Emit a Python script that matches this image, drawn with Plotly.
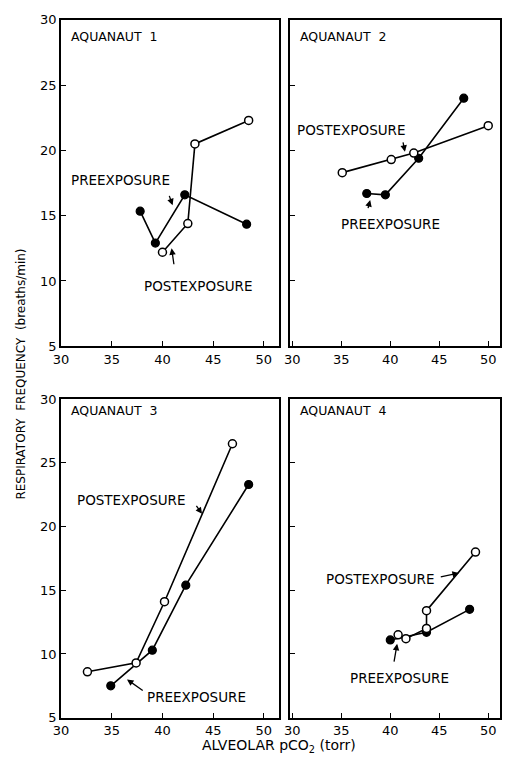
import plotly.graph_objects as go

# ---- data (alveolar pCO2 in torr, respiratory frequency in breaths/min) ----
panel_titles = ["AQUANAUT  1", "AQUANAUT  2", "AQUANAUT  3", "AQUANAUT  4"]

pre_x = [
    [37.8, 39.3, 42.2, 48.3],
    [37.6, 39.5, 42.9, 47.5],
    [34.9, 39.0, 42.3, 48.5],
    [40.0, 43.7, 48.1],
]
pre_y = [
    [15.35, 12.9, 16.6, 14.35],
    [16.7, 16.6, 19.4, 24.0],
    [7.5, 10.3, 15.4, 23.3],
    [11.1, 11.7, 13.5],
]
post_x = [
    [40.0, 42.5, 43.2, 48.5],
    [35.1, 40.1, 42.4, 50.0],
    [32.6, 37.4, 40.2, 46.9],
    [40.8, 41.6, 43.7, 43.7, 48.7],
]
post_y = [
    [12.2, 14.4, 20.5, 22.3],
    [18.3, 19.3, 19.8, 21.9],
    [8.6, 9.3, 14.1, 26.5],
    [11.5, 11.2, 12.0, 13.4, 18.0],
]

x_ticks = [30, 35, 40, 45, 50]
y_ticks = [5, 10, 15, 20, 25, 30]

# label text positions (data coords) per panel: (text, x, y)
labels = [
    [("PREEXPOSURE", 35.9, 17.7), ("POSTEXPOSURE", 43.6, 9.6)],
    [("POSTEXPOSURE", 36.0, 21.6), ("PREEXPOSURE", 40.0, 14.35)],
    [("POSTEXPOSURE", 36.9, 22.1), ("PREEXPOSURE", 43.4, 6.6)],
    [("POSTEXPOSURE", 39.0, 15.9), ("PREEXPOSURE", 40.9, 8.1)],
]
# arrows per panel: (tail_x, tail_y, head_x, head_y)
arrows = [
    [(40.5, 16.9, 41.0, 15.8), (41.2, 10.9, 40.9, 12.5)],
    [(41.2, 21.0, 41.5, 19.9), (37.6, 15.2, 37.95, 16.2)],
    [(43.1, 21.9, 43.9, 21.0), (38.3, 7.0, 36.5, 8.0)],
    [(44.9, 16.0, 47.0, 16.35), (40.3, 9.0, 40.7, 10.8)],
]

# the page body adds an 8px margin; size the figure so it fits the window
OFF = 8
W, H = 510 - 2 * OFF, 766 - 2 * OFF
# panel frames in window pixels: (left, right, top, bottom)
frames = [(54, 276, 13, 346), (288, 508, 13, 346),
          (54, 276, 400, 725), (288, 508, 400, 725)]
x_ranges = [[30, 51.45], [29.8, 51.2], [30, 51.45], [29.8, 51.2]]


def px(v):
    return (v - OFF) / W


def py(v):
    return 1 - (v - OFF) / H


FONT = "DejaVu Sans"
fig = go.Figure()
layout = dict(
    width=W, height=H, margin=dict(l=0, r=0, t=0, b=0),
    paper_bgcolor="white", plot_bgcolor="white", showlegend=False,
    font=dict(family=FONT, color="black", size=12),
)
annotations = []

for i in range(4):
    n = "" if i == 0 else str(i + 1)
    xa, ya = "x" + n, "y" + n
    l, r, t, b = frames[i]
    layout["xaxis" + n] = dict(
        domain=[px(l), min(px(r), 1.0)], range=x_ranges[i], anchor=ya,
        tickvals=x_ticks, ticks="inside", ticklen=5, tickwidth=1.2,
        tickcolor="black", showline=True, linecolor="black", linewidth=1.8,
        mirror=True, showgrid=False, zeroline=False,
        tickfont=dict(family=FONT, size=13, color="black"),
    )
    layout["yaxis" + n] = dict(
        domain=[py(b), py(t)], range=[5, 30], anchor=xa,
        tickvals=y_ticks, ticks="inside", ticklen=5, tickwidth=1.2,
        tickcolor="black", showline=True, linecolor="black", linewidth=1.8,
        mirror=True, showgrid=False, zeroline=False,
        showticklabels=(i % 2 == 0),
        tickfont=dict(family=FONT, size=13, color="black"),
    )
    fig.add_trace(go.Scatter(
        x=pre_x[i], y=pre_y[i], mode="lines+markers", xaxis=xa, yaxis=ya,
        line=dict(color="black", width=1.6),
        marker=dict(size=8, color="black", line=dict(color="black", width=1.2)),
    ))
    fig.add_trace(go.Scatter(
        x=post_x[i], y=post_y[i], mode="lines+markers", xaxis=xa, yaxis=ya,
        line=dict(color="black", width=1.6),
        marker=dict(size=8, color="white", line=dict(color="black", width=1.5)),
    ))
    annotations.append(dict(
        text=panel_titles[i], xref=xa + " domain", yref=ya + " domain",
        x=0.035, y=(0.95 if i < 2 else 0.965), xanchor="left", yanchor="middle",
        showarrow=False, font=dict(family=FONT, size=12.5, color="black"),
    ))
    for txt, lx, ly in labels[i]:
        annotations.append(dict(
            text=txt, xref=xa, yref=ya, x=lx, y=ly, showarrow=False,
            xanchor="center", yanchor="middle",
            font=dict(family=FONT, size=13.5, color="black"),
        ))
    for tx, ty, hx, hy in arrows[i]:
        annotations.append(dict(
            text=" ", xref=xa, yref=ya, x=hx, y=hy, axref=xa, ayref=ya,
            ax=tx, ay=ty, showarrow=True, arrowhead=2, arrowsize=1,
            arrowwidth=1.3, arrowcolor="black", standoff=0, startstandoff=0,
            font=dict(size=6),
        ))

annotations.append(dict(
    text="ALVEOLAR pCO<sub>2</sub> (torr)", xref="paper", yref="paper",
    x=px(276), y=py(754), xanchor="center", yanchor="middle",
    showarrow=False, font=dict(family=FONT, size=14, color="black"),
))
annotations.append(dict(
    text="RESPIRATORY  FREQUENCY  (breaths/min)", xref="paper", yref="paper",
    x=max(px(13), 0.0), y=py(374), xanchor="center", yanchor="middle",
    textangle=-90,
    showarrow=False, font=dict(family=FONT, size=12, color="black"),
))
layout["annotations"] = annotations
fig.update_layout(**layout)
fig.write_html("out.html")
